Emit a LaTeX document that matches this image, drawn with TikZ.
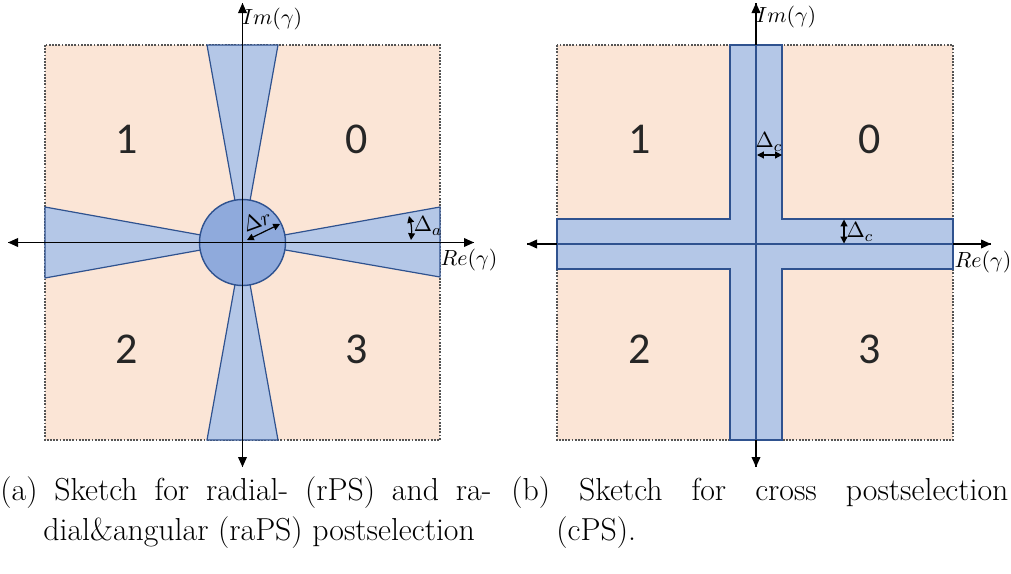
\documentclass[tikz,border=0pt]{standalone}
\usepackage{fontspec}
\newfontfamily\digitfont{Carlito}
\usetikzlibrary{arrows.meta}
\definecolor{peach}{HTML}{FBE5D6}
\definecolor{bandblue}{HTML}{B4C7E7}
\definecolor{circblue}{HTML}{8FAADC}
\definecolor{edgeblue}{HTML}{2F528F}
\definecolor{dotgray}{HTML}{555555}
\begin{document}
\begin{tikzpicture}[x=0.5pt,y=-0.5pt,
  region/.style={fill=peach},
  frame/.style={draw=dotgray,line width=0.9pt,dash pattern=on 0.9pt off 0.7pt},
  band/.style={fill=bandblue,draw=edgeblue,line width=0.6pt,line join=miter},
  disc/.style={fill=circblue,draw=edgeblue,line width=0.7pt},
  axis/.style={draw=black,line width=0.55pt,-{Triangle[length=5pt,width=4.4pt]}},
  dim/.style={draw=black,line width=0.6pt,{Triangle[length=3.4pt,width=3.4pt]}-{Triangle[length=3.4pt,width=3.4pt]}},
  digit/.style={font=\digitfont\fontsize{22}{26}\selectfont,text=black!85,inner sep=0pt},
  axlabel/.style={font=\fontsize{11}{13}\selectfont,inner sep=0pt},
  dimlabel/.style={font=\fontsize{11}{13}\selectfont,inner sep=0pt},
  capt/.style={font=\fontsize{15.9}{19}\selectfont,inner sep=0pt,anchor=base west}]
\useasboundingbox (0,0) rectangle (1011,573);

% ---------- panel (a) ----------
\fill[region] (45,45) rectangle (440,440);
\draw[frame] (45,45) rectangle (440,440);
\coordinate (ca) at (242.5,242.5);
\draw[band] (ca) -- (207,45) -- (278,45) -- cycle;
\draw[band] (ca) -- (207,440) -- (278,440) -- cycle;
\draw[band] (ca) -- (45,207) -- (45,278) -- cycle;
\draw[band] (ca) -- (440,207) -- (440,277) -- cycle;
\draw[disc] (ca) circle[radius=43];
\coordinate (aL) at (8,242.5);
\coordinate (aR) at (474,242.5);
\coordinate (aT) at (242.5,3);
\coordinate (aB) at (242.5,467);
\draw[axis] (aR) -- (aL);
\draw[axis] (aL) -- (aR);
\draw[axis] (aB) -- (aT);
\draw[axis] (aT) -- (aB);
\node[axlabel] (reA) at (469,260) {$Re(\gamma)$};
\node[axlabel] (imA) at (272,19) {$Im(\gamma)$};
\node[digit] (a1) at (127,139) {1};
\node[digit] (a0) at (357,139) {0};
\node[digit] (a2) at (127,349) {2};
\node[digit] (a3) at (357,349) {3};
\coordinate (drA) at (247,240);
\coordinate (drB) at (280,224);
\draw[dim] (drA) -- (drB);
\node[dimlabel,rotate=20] (drl) at (257,221) {$\Delta r$};
\coordinate (daA) at (409,216);
\coordinate (daB) at (411,240);
\draw[dim] (daA) to[bend left=10] (daB);
\node[dimlabel] (dal) at (428,226) {$\Delta_a$};

% ---------- panel (b) ----------
\fill[region] (557,45) rectangle (953,440);
\draw[frame] (557,45) rectangle (953,440);
\draw[band] (730,45) -- (782,45) -- (782,219) -- (953,219) -- (953,269)
  -- (782,269) -- (782,440) -- (730,440) -- (730,269) -- (557,269)
  -- (557,219) -- (730,219) -- cycle;
\coordinate (bL) at (527,244);
\coordinate (bR) at (991,244);
\coordinate (bT) at (756,3);
\coordinate (bB) at (756,467);
\draw[axis] (bR) -- (bL);
\draw[axis] (bL) -- (bR);
\draw[axis] (bB) -- (bT);
\draw[axis] (bT) -- (bB);
\draw[edgeblue,line width=0.6pt] (756,45) -- (756,440);
\draw[edgeblue,line width=0.6pt] (557,244) -- (953,244);
\node[axlabel] (reB) at (983,262) {$Re(\gamma)$};
\node[axlabel] (imB) at (786,17) {$Im(\gamma)$};
\node[digit] (b1) at (640,139) {1};
\node[digit] (b0) at (870,139) {0};
\node[digit] (b2) at (640,349) {2};
\node[digit] (b3) at (870,349) {3};
\coordinate (dcA) at (757,155);
\coordinate (dcB) at (782,155);
\draw[dim] (dcA) -- (dcB);
\node[dimlabel] (dcl) at (769,142) {$\Delta_c$};
\coordinate (dcC) at (844,219.5);
\coordinate (dcD) at (844,243.5);
\draw[dim] (dcC) -- (dcD);
\node[dimlabel] (dcl2) at (860,232) {$\Delta_c$};

% ---------- captions ----------
\node[capt] (capA1) at (0,500) {\makebox[245.5pt][s]{(a)\ Sketch for radial- (rPS) and ra-}};
\node[capt] (capA2) at (43,540) {dial\&angular (raPS) postselection};
\node[capt] (capB1) at (511,500) {\makebox[248.5pt][s]{(b)\ Sketch for cross postselection}};
\node[capt] (capB2) at (556,540) {(cPS).};
\end{tikzpicture}
\end{document}
